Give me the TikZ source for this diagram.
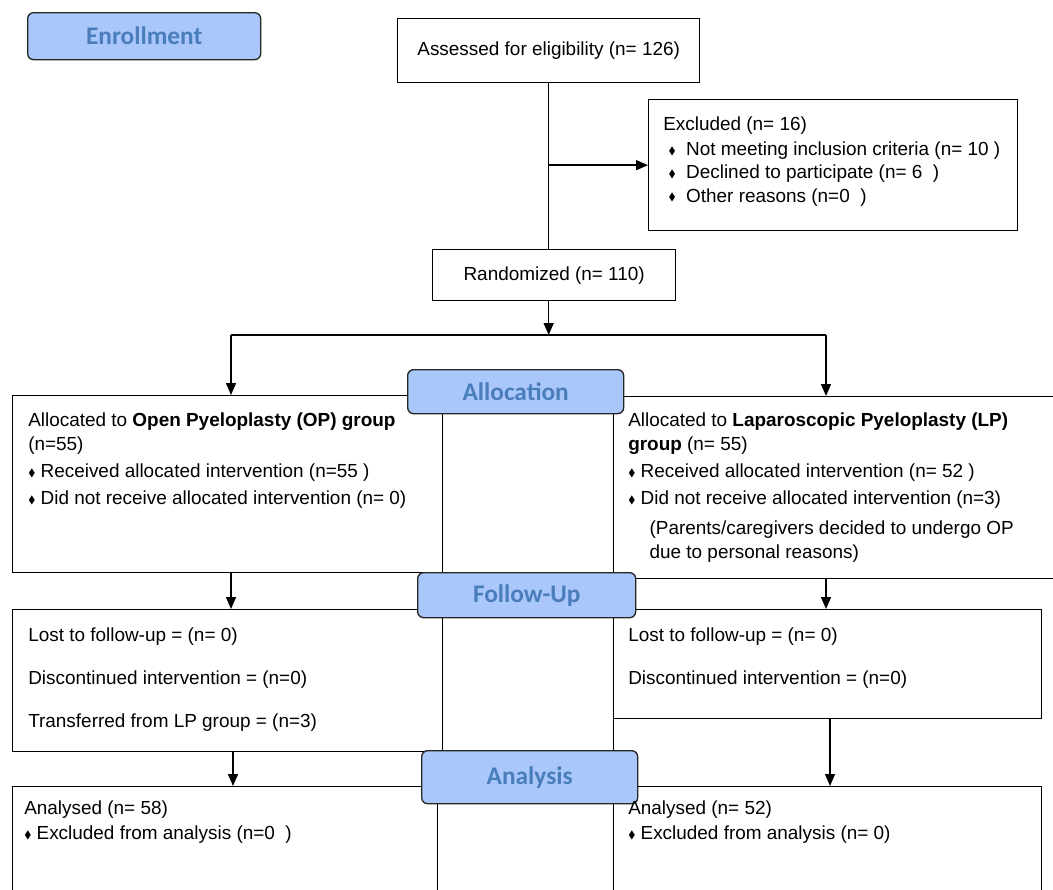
\documentclass[tikz,border=0pt]{standalone}
\usepackage{amssymb}
\usepackage{fontspec}
\setmainfont{Liberation Sans}
\newfontfamily\phasefont{Carlito}
\usetikzlibrary{arrows.meta}
\definecolor{phasefill}{RGB}{169,199,250}
\definecolor{phasetext}{RGB}{74,126,187}
\newcommand\dmd{\raisebox{0.15ex}{\footnotesize$\blacklozenge$}}

\begin{document}
\begin{tikzpicture}[x=0.75pt,y=-0.75pt,
  wh/.style 2 args={minimum width=#1*0.75pt, minimum height=#2*0.75pt},
  box/.style={draw, line width=1pt, inner sep=0pt, anchor=north west,
    font=\fontsize{14.2}{17.5}\selectfont},
  phase/.style={box, fill=phasefill, rounded corners=4.5pt, draw=black!85,
    text=phasetext, font=\phasefont\bfseries\fontsize{19}{22}\selectfont},
  txt/.style={anchor=north west, align=left, inner sep=0pt,
    font=\fontsize{14.2}{17.5}\selectfont},
  arr/.style={line width=1.1pt, -{Triangle[length=9pt, width=7.5pt]}}]
\useasboundingbox (0,0) rectangle (1053,889);
\clip (0,0) rectangle (1053,889);

% enrollment
\node[phase, wh={233}{47}] (enroll) at (27,12) {Enrollment};
\node[box, wh={302}{64}] (assess) at (397,18) {Assessed for eligibility (n= 126)};
\node[box, wh={369}{131}] (excl) at (648,99) {};
\node[txt] (exclTxt) at (663,117) {Excluded (n= 16)\\[1pt]
  \ \dmd\ \ Not meeting inclusion criteria (n= 10 )\\
  \ \dmd\ \ Declined to participate (n= 6\ \ )\\
  \ \dmd\ \ Other reasons (n=0\ \ )};
\node[box, wh={243}{51}] (rand) at (432,249) {Randomized (n= 110)};
\draw[line width=1.1pt] (assess.south) -- (assess.south |- rand.north);
\draw[arr] (assess.south |- excl.west) -- (excl.west);

% allocation
\coordinate (splitL) at (231,335);
\coordinate (splitR) at (826,335);
\node[box, wh={430}{177}] (allocL) at (12,395) {};
\node[box, wh={171}{177}] (allocM) at (442,395) {};
\node[box, wh={450}{182}] (allocR) at (613,396) {};
\node[phase, wh={216}{44}] (allocation) at (407,369) {Allocation};
\draw[line width=1.1pt] (splitL) -- (splitR);
\draw[arr] (assess.south |- rand.south) -- (assess.south |- splitL);
\draw[arr] (splitL) -- (splitL |- allocL.north);
\draw[arr] (splitR) -- (splitR |- allocR.north);
\node[txt] (allocLTxt) at (28,413) {Allocated to \textbf{Open Pyeloplasty (OP) group}\\
  (n=55)\\[3pt]
  \dmd\ Received allocated intervention (n=55 )\\[3pt]
  \dmd\ Did not receive allocated intervention (n= 0)};
\node[txt] (allocRTxt) at (628,413) {Allocated to \textbf{Laparoscopic Pyeloplasty (LP)}\\
  \textbf{group} (n= 55)\\[3pt]
  \dmd\ Received allocated intervention (n= 52 )\\[3pt]
  \dmd\ Did not receive allocated intervention (n=3)\\[5pt]
  \hspace*{16pt}(Parents/caregivers decided to undergo OP\\[0.5pt]
  \hspace*{16pt}due to personal reasons)};

% follow-up
\node[box, wh={430}{142}] (followL) at (12,609) {};
\node[box, wh={171}{142}] (followM) at (442,609) {};
\node[box, wh={428}{109}] (followR) at (613,609) {};
\node[phase, wh={218}{45}] (followup) at (417,572) {Follow-Up};
\draw[arr] (splitL |- allocL.south) -- (splitL |- followL.north);
\draw[arr] (splitR |- allocR.south) -- (splitR |- followR.north);
\node[txt] (followLTxt) at (28,628) {Lost to follow-up = (n= 0)\\[14.5pt]
  Discontinued intervention = (n=0)\\[14.5pt]
  Transferred from LP group = (n=3)};
\node[txt] (followRTxt) at (628,628) {Lost to follow-up = (n= 0)\\[14.5pt]
  Discontinued intervention = (n=0)};

% analysis
\node[box, wh={425}{120}] (anaL) at (12,786) {};
\node[box, wh={176}{120}] (anaM) at (437,786) {};
\node[box, wh={428}{120}] (anaR) at (613,786) {};
\node[phase, wh={216}{53}] (analysis) at (421,750) {Analysis};
\draw[arr] (233,0 |- followL.south) -- (233,0 |- anaL.north);
\draw[arr] (830,0 |- followR.south) -- (830,0 |- anaR.north);
\node[txt] (anaLTxt) at (24,801) {Analysed (n= 58)\\[1pt]
  \dmd\ Excluded from analysis (n=0\ \ )};
\node[txt] (anaRTxt) at (628,801) {Analysed (n= 52)\\[1pt]
  \dmd\ Excluded from analysis (n= 0)};
\end{tikzpicture}
\end{document}
